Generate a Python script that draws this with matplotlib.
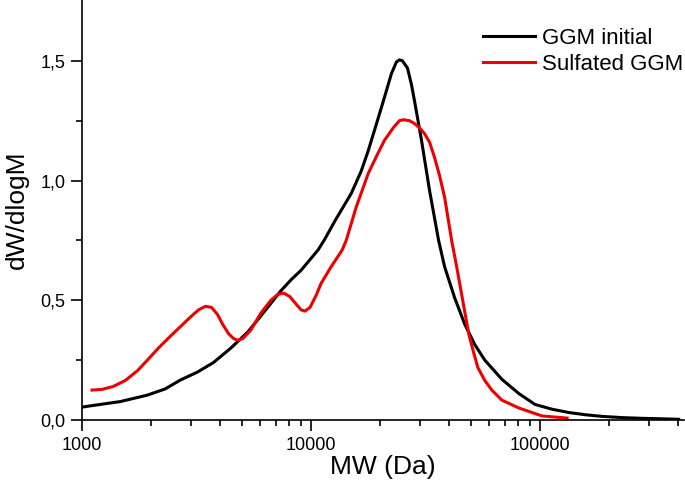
import matplotlib
matplotlib.use("Agg")
from matplotlib import pyplot as plt
from matplotlib.ticker import FixedLocator, LogLocator, NullFormatter, FuncFormatter

plt.rcParams["font.family"] = ["Liberation Sans", "DejaVu Sans"]

# GGM initial
mw_initial = [1000, 1200, 1470, 1930, 2310, 2690, 3190, 3750, 4460, 5290,
              6220, 7390, 8170, 9040, 10000, 10730, 11400, 12870, 14980,
              16570, 17780, 19280, 20900, 22430, 23590, 24320, 25070, 26370,
              27460, 28300, 30380, 32930, 36060, 38310, 42390, 46900, 51880,
              57390, 68130, 80900, 95080, 112900, 134100, 157600, 187100,
              228900, 280200, 342800, 403000]
dw_initial = [0.054, 0.065, 0.077, 0.104, 0.13, 0.167, 0.20, 0.24, 0.30, 0.367,
              0.45, 0.54, 0.585, 0.625, 0.675, 0.71, 0.75, 0.84, 0.946,
              1.04, 1.125, 1.235, 1.346, 1.446, 1.495, 1.504, 1.50, 1.47,
              1.40, 1.333, 1.167, 0.958, 0.75, 0.64, 0.51, 0.40, 0.315,
              0.25, 0.17, 0.11, 0.065, 0.045, 0.031, 0.022, 0.015,
              0.01, 0.007, 0.005, 0.003]

# Sulfated GGM
mw_sulfated = [1106, 1224, 1368, 1544, 1743, 1930, 2154, 2432, 2690, 2976,
               3227, 3463, 3680, 3910, 4111, 4369, 4595, 4784, 5032, 5456,
               6035, 6677, 7166, 7613, 8090, 8595, 9040, 9412, 9899, 10520,
               11060, 12240, 13680, 14240, 15760, 17780, 19280, 20900, 22890,
               24320, 25320, 26900, 28300, 29760, 31300, 32930, 34630, 36420,
               38310, 41110, 43250, 45950, 48810, 51340, 53460, 57390, 61570,
               68130, 80900, 102000, 131300]
dw_sulfated = [0.125, 0.128, 0.14, 0.165, 0.205, 0.25, 0.30, 0.35, 0.39, 0.43,
               0.46, 0.475, 0.47, 0.44, 0.40, 0.36, 0.34, 0.333, 0.34, 0.375,
               0.446, 0.50, 0.525, 0.53, 0.515, 0.485, 0.46, 0.455, 0.47, 0.52,
               0.57, 0.64, 0.71, 0.75, 0.89, 1.03, 1.10, 1.167, 1.221,
               1.25, 1.254, 1.25, 1.238, 1.22, 1.196, 1.16, 1.096, 1.02,
               0.93, 0.75, 0.64, 0.50, 0.36, 0.28, 0.22, 0.165, 0.125,
               0.083, 0.05, 0.017, 0.008]

y_ticks = [0.0, 0.5, 1.0, 1.5]
y_minor = [0.25, 0.75, 1.25]

fig = plt.figure(figsize=(6.85, 4.83), dpi=100)
ax = fig.add_axes([0.1197, 0.1304, 0.8788, 0.8696])

ax.plot(mw_initial, dw_initial, color="black", lw=2.2, label="GGM initial")
ax.plot(mw_sulfated, dw_sulfated, color="#ee0000", lw=2.2, label="Sulfated GGM")

ax.set_xscale("log")
ax.set_xlim(1000, 425000)
ax.set_ylim(0, 1.754)

ax.xaxis.set_major_locator(LogLocator(base=10, numticks=10))
ax.xaxis.set_minor_locator(LogLocator(base=10, subs=range(2, 10), numticks=20))
ax.xaxis.set_minor_formatter(NullFormatter())
ax.xaxis.set_major_formatter(FuncFormatter(lambda v, p: f"{int(round(v))}"))

ax.yaxis.set_major_locator(FixedLocator(y_ticks))
ax.yaxis.set_minor_locator(FixedLocator(y_minor))
ax.yaxis.set_major_formatter(FuncFormatter(lambda v, p: f"{v:.1f}".replace(".", ",")))

for s in ["top", "right"]:
    ax.spines[s].set_visible(False)
for s in ["left", "bottom"]:
    ax.spines[s].set_linewidth(1.2)

ax.tick_params(which="major", direction="out", length=8, width=1.2, labelsize=13, pad=4)
ax.tick_params(which="minor", direction="out", length=4, width=1.2)

ax.set_xlabel("MW (Da)", fontsize=19, labelpad=1)
ax.set_ylabel("dW/dlogM", fontsize=19, labelpad=8)

ax.legend(loc="upper right", frameon=False, fontsize=16, handlelength=2.35,
          handletextpad=0.3, bbox_to_anchor=(1.013, 0.955), borderaxespad=0.0,
          labelspacing=0.22)

fig.savefig("out.png", dpi=100)
